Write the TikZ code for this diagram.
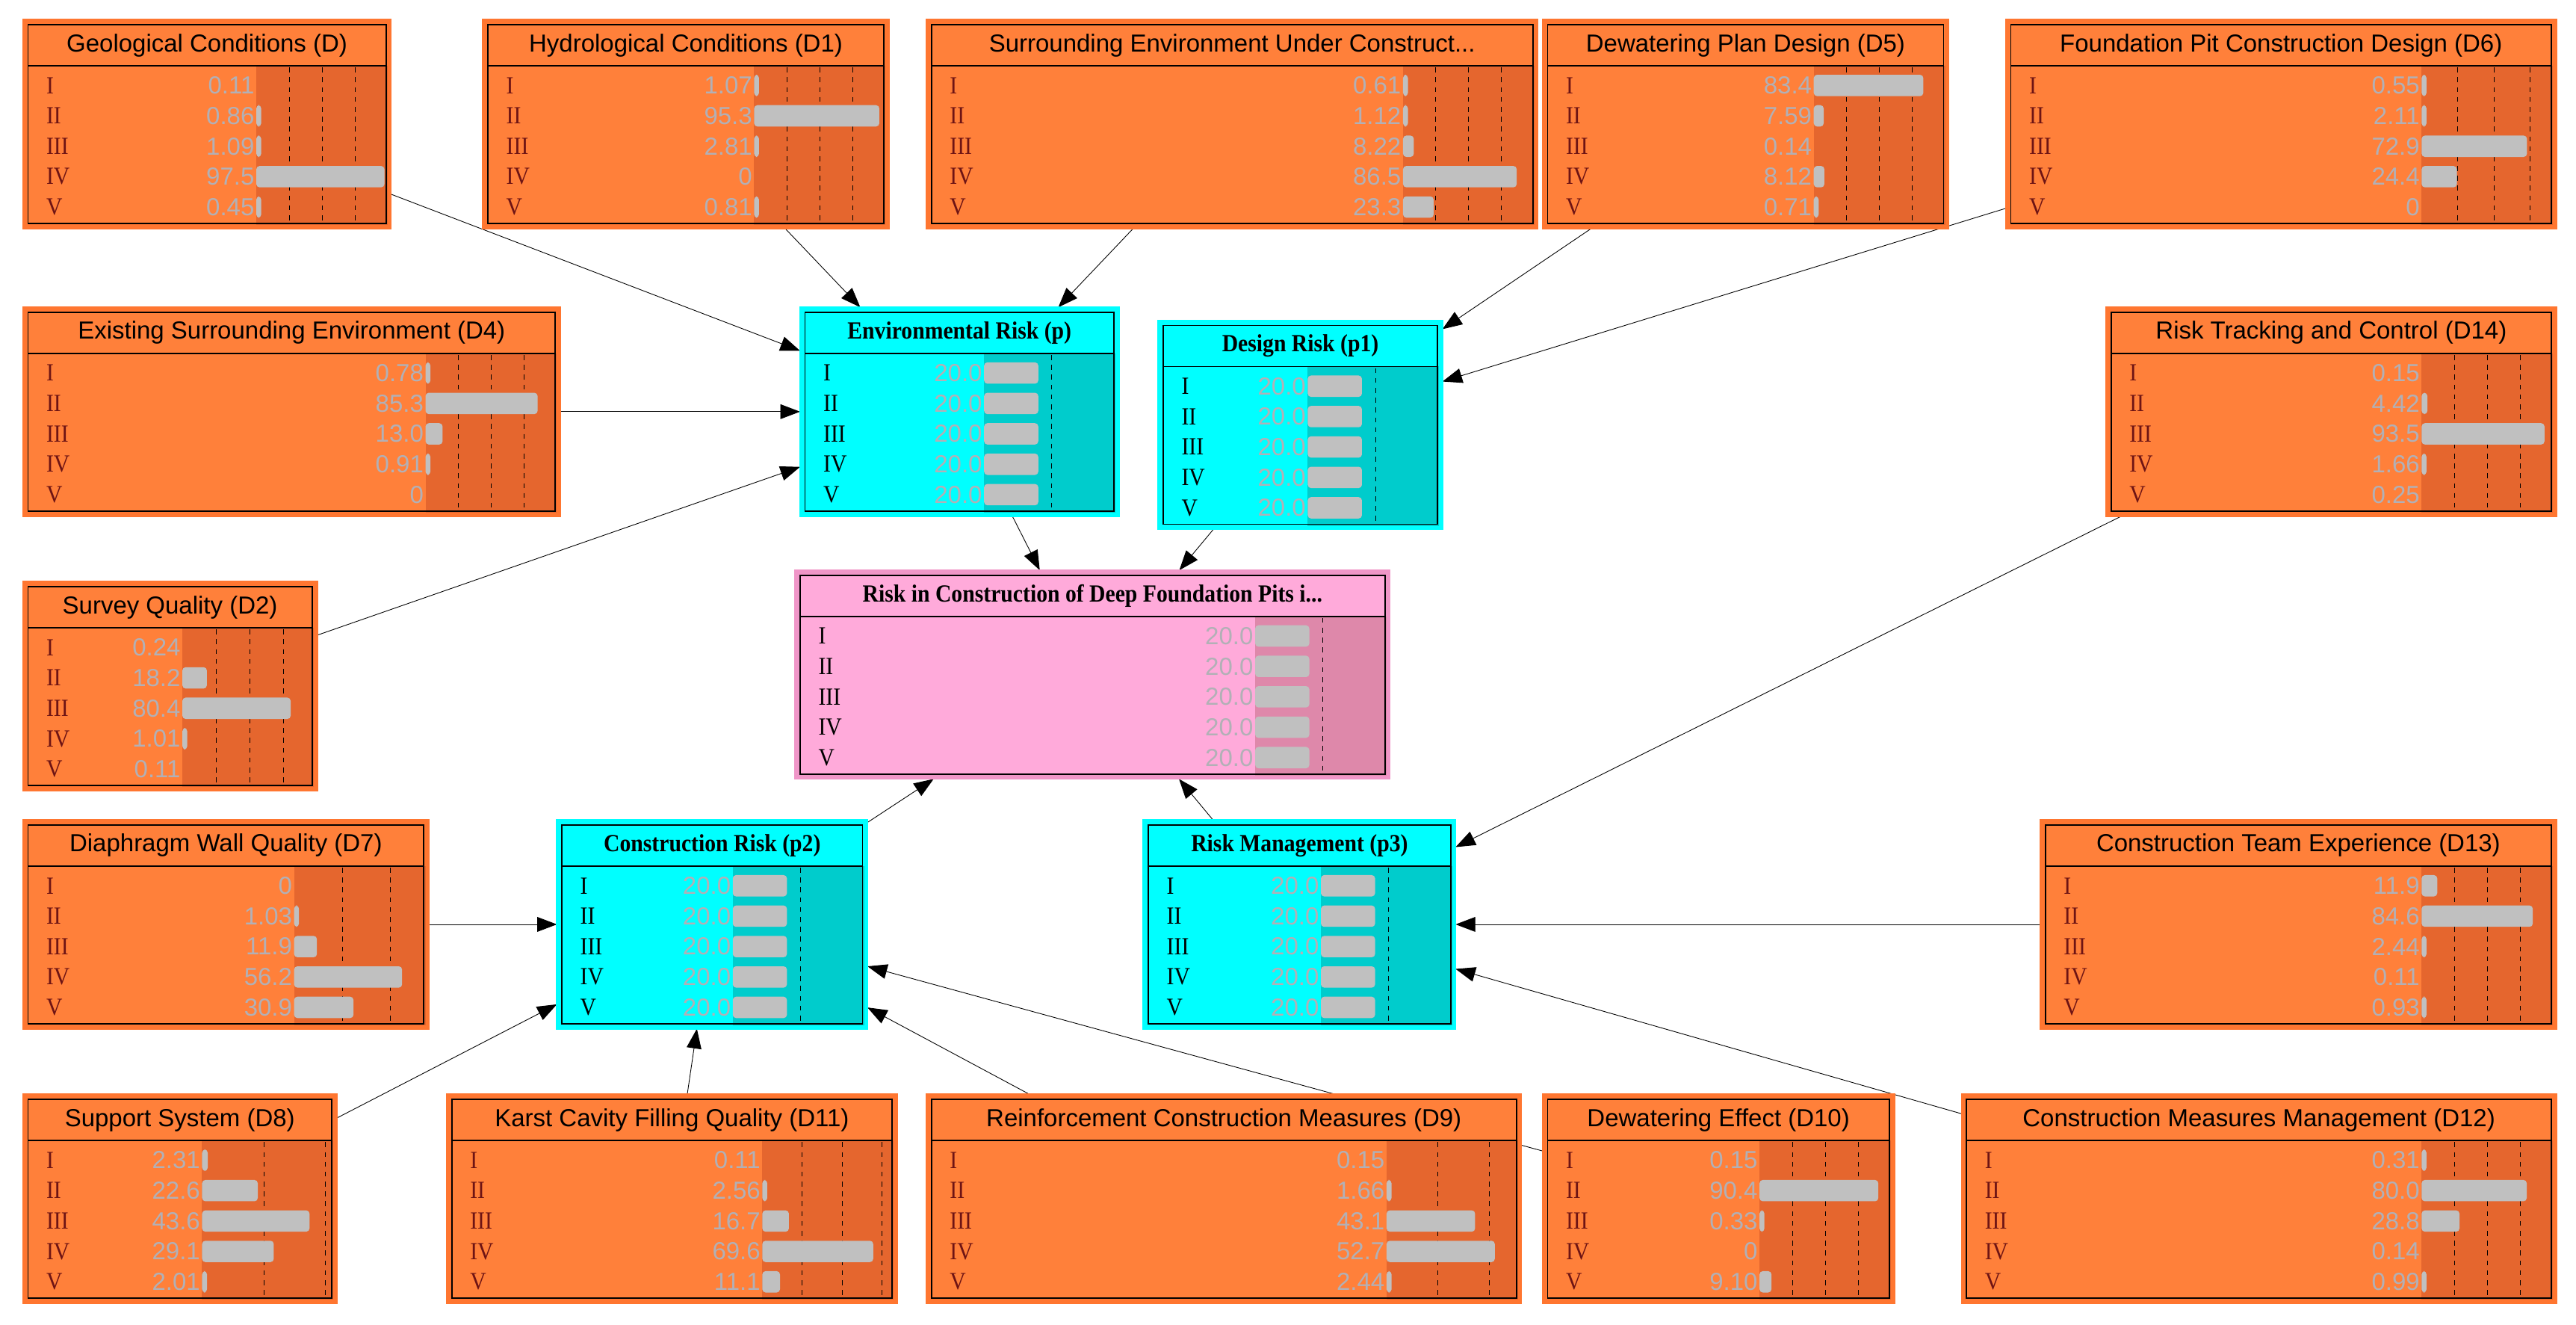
\documentclass[tikz,border=0pt]{standalone}
\usepackage{fontspec}
\usepackage{tikz}
\usetikzlibrary{arrows.meta}
\setmainfont{Liberation Serif}
\newfontfamily\bnsans{Liberation Sans}
\newfontfamily\bnserif{Liberation Serif}[FakeStretch=0.9]
\definecolor{orangeFill}{RGB}{255,128,58}
\definecolor{orangeDark}{RGB}{229,102,46}
\definecolor{orangeGlow}{RGB}{255,118,48}
\definecolor{cyanFill}{RGB}{0,255,255}
\definecolor{cyanDark}{RGB}{0,204,204}
\definecolor{cyanGlow}{RGB}{0,255,255}
\definecolor{pinkFill}{RGB}{255,170,218}
\definecolor{pinkDark}{RGB}{222,136,170}
\definecolor{pinkGlow}{RGB}{240,150,200}
\definecolor{barGray}{RGB}{192,192,192}
\definecolor{valGray}{RGB}{178,176,182}
\definecolor{numRed}{RGB}{110,20,20}
\pgfdeclarelayer{background}
\pgfsetlayers{background,main}

\newcommand\rnum[1]{\ifcase#1\or I\or II\or III\or IV\or V\fi}
% #1 name, #2-#5 corners, #6 title, #7 values, #8 bar scale, #9 colour kind
\newcommand\bnnode[9]{%
  \pgfmathsetmacro\bw{#4-#2}\pgfmathsetmacro\bh{#5-#3}%
  \pgfmathsetmacro\bcx{(#2+#4)/2}\pgfmathsetmacro\bcy{(#3+#5)/2}%
  \pgfmathsetmacro\bxs{#4-81}%
  \node[bn box, fill=#9Fill, draw=#9Glow, minimum width=\bw pt, minimum height=\bh pt] (#1) at (\bcx,\bcy) {};
  \fill[#9Dark] (\bxs,#3+27) rectangle (#4-1,#5-1);
  \draw[thick] (#2+2,#3+2) rectangle (#4-2,#5-2);
  \draw[thick] (#2+2,#3+27) -- (#4-2,#3+27);
  \foreach \k in {1,2,3}{%
    \pgfmathsetmacro\dx{\bxs+\k*25*#8}%
    \pgfmathtruncatemacro\ok{\dx<#4-4}%
    \ifnum\ok=1 \draw[dashed] (\dx,#3+28) -- (\dx,#5-2);\fi}
  \node[#9 title] at (\bcx,#3+14.5) {#6};
  \foreach \v [count=\i] in {#7}{%
    \pgfmathsetmacro\ry{#3+39+(\i-1)*18.5}%
    \node[#9 num, anchor=west] at (#2+13,\ry) {\rnum{\i}};
    \node[bn val, anchor=east] at (\bxs-1,\ry) {\v};
    \pgfmathsetmacro\bl{\v>0.3 ? max(\v*#8,3) : 0}%
    \pgfmathtruncatemacro\ok{\bl>0}%
    \ifnum\ok=1 \fill[barGray, rounded corners=2pt] (\bxs,\ry-6.5) rectangle (\bxs+\bl,\ry+6.5);\fi}
}

\begin{document}
\begin{tikzpicture}[x=1pt, y=-1pt]
  \tikzset{bn box/.style={rectangle, line width=3pt, inner sep=0pt, outer sep=1pt},
    bn val/.style={font=\bnsans\fontsize{15}{15}\selectfont, text=valGray, inner sep=0pt},
    orange title/.style={font=\bnsans\fontsize{15}{15}\selectfont, inner sep=0pt},
    cyan title/.style={font=\bnserif\bfseries\fontsize{15}{15}\selectfont, inner sep=0pt},
    pink title/.style={cyan title},
    orange num/.style={font=\bnserif\fontsize{15}{15}\selectfont, text=numRed, inner sep=0pt},
    cyan num/.style={font=\bnserif\fontsize{15}{15}\selectfont, inner sep=0pt},
    pink num/.style={cyan num},
    link/.style={draw, thin, -{Triangle[length=12pt,width=9pt]}}}
  \useasboundingbox (0,0) rectangle (1568,806);

  % top row
  \bnnode{geo}{15}{13}{237}{138}{Geological Conditions (D)}{0.11,0.86,1.09,97.5,0.45}{0.8}{orange}
  \bnnode{hydro}{295}{13}{540}{138}{Hydrological Conditions (D1)}{1.07,95.3,2.81,0,0.81}{0.8}{orange}
  \bnnode{surr}{565}{13}{935}{138}{Surrounding Environment Under Construct...}{0.61,1.12,8.22,86.5,23.3}{0.8}{orange}
  \bnnode{dewplan}{940}{13}{1185}{138}{Dewatering Plan Design (D5)}{83.4,7.59,0.14,8.12,0.71}{0.8}{orange}
  \bnnode{pitdesign}{1222}{13}{1555}{138}{Foundation Pit Construction Design (D6)}{0.55,2.11,72.9,24.4,0}{0.88}{orange}
  % middle
  \bnnode{exist}{15}{188}{340}{313}{Existing Surrounding Environment (D4)}{0.78,85.3,13.0,0.91,0}{0.8}{orange}
  \bnnode{env}{488}{188}{680}{313}{Environmental Risk (p)}{20.0,20.0,20.0,20.0,20.0}{1.65}{cyan}
  \bnnode{design}{706}{196}{877}{321}{Design Risk (p1)}{20.0,20.0,20.0,20.0,20.0}{1.65}{cyan}
  \bnnode{track}{1283}{188}{1555}{313}{Risk Tracking and Control (D14)}{0.15,4.42,93.5,1.66,0.25}{0.8}{orange}
  \bnnode{survey}{15}{355}{192}{480}{Survey Quality (D2)}{0.24,18.2,80.4,1.01,0.11}{0.82}{orange}
  \bnnode{top}{485}{348}{845}{473}{Risk in Construction of Deep Foundation Pits i...}{20.0,20.0,20.0,20.0,20.0}{1.65}{pink}
  \bnnode{wall}{15}{500}{260}{625}{Diaphragm Wall Quality (D7)}{0,1.03,11.9,56.2,30.9}{1.17}{orange}
  \bnnode{constr}{340}{500}{527}{625}{Construction Risk (p2)}{20.0,20.0,20.0,20.0,20.0}{1.65}{cyan}
  \bnnode{mgmt}{697}{500}{885}{625}{Risk Management (p3)}{20.0,20.0,20.0,20.0,20.0}{1.65}{cyan}
  \bnnode{team}{1243}{500}{1555}{625}{Construction Team Experience (D13)}{11.9,84.6,2.44,0.11,0.93}{0.8}{orange}
  % bottom row
  \bnnode{support}{15}{667}{204}{792}{Support System (D8)}{2.31,22.6,43.6,29.1,2.01}{1.5}{orange}
  \bnnode{karst}{273}{667}{545}{792}{Karst Cavity Filling Quality (D11)}{0.11,2.56,16.7,69.6,11.1}{0.97}{orange}
  \bnnode{reinf}{565}{667}{925}{792}{Reinforcement Construction Measures (D9)}{0.15,1.66,43.1,52.7,2.44}{1.25}{orange}
  \bnnode{dewfx}{940}{667}{1152}{792}{Dewatering Effect (D10)}{0.15,90.4,0.33,0,9.10}{0.8}{orange}
  \bnnode{measures}{1195}{667}{1555}{792}{Construction Measures Management (D12)}{0.31,80.0,28.8,0.14,0.99}{0.8}{orange}

  \begin{pgfonlayer}{background}
  \foreach \a/\b in {geo/env, hydro/env, surr/env, exist/env, survey/env,
      dewplan/design, pitdesign/design, env/top, design/top, constr/top, mgmt/top,
      wall/constr, support/constr, karst/constr, reinf/constr, dewfx/constr,
      track/mgmt, team/mgmt, measures/mgmt}
    \path[link] (\a) -- (\b);
  \end{pgfonlayer}
\end{tikzpicture}
\end{document}
